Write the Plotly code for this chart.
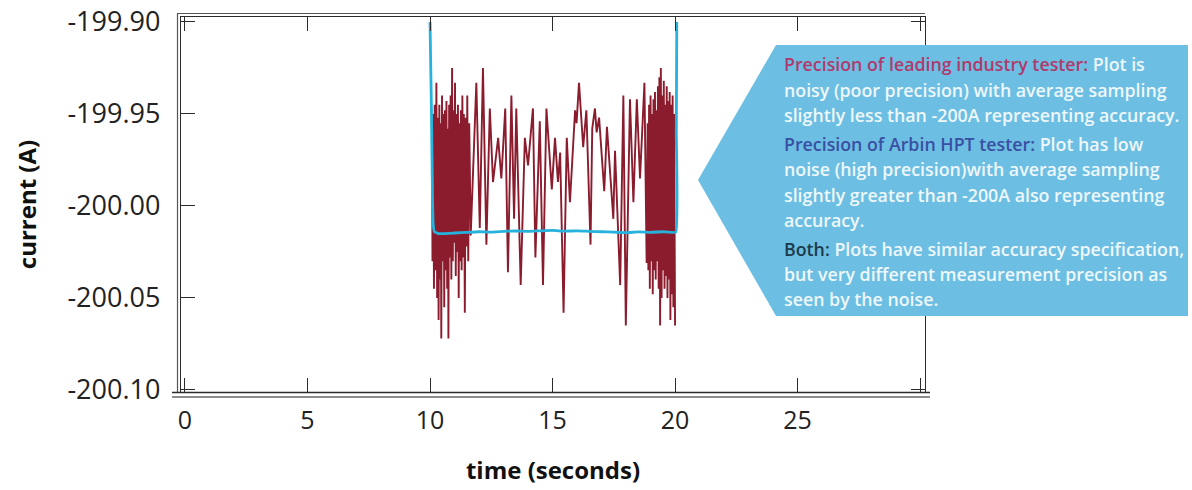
import plotly.graph_objects as go

# ---------------- data ----------------
red_t = [10.08, 10.10, 10.13, 10.16, 10.19, 10.22, 10.26, 10.29, 10.32, 10.35,
         10.38, 10.41, 10.43, 10.46, 10.49, 10.52, 10.55, 10.58, 10.61, 10.64,
         10.67, 10.70, 10.73, 10.75, 10.78, 10.81, 10.84, 10.87, 10.90, 10.93,
         10.96, 10.99, 11.02, 11.05, 11.08, 11.11, 11.14, 11.17, 11.20, 11.23,
         11.26, 11.29, 11.32, 11.35, 11.38, 11.42, 11.46, 11.49, 11.52, 11.56,
         11.60, 11.66,
         11.89, 12.03, 12.16, 12.30, 12.44, 12.57, 12.78, 12.91, 13.07, 13.18,
         13.32, 13.43, 13.52, 13.70, 13.87, 14.00, 14.20, 14.30, 14.48, 14.61,
         14.75, 14.97, 15.10, 15.22, 15.31, 15.45, 15.58, 15.71, 15.92, 15.98,
         16.08, 16.25, 16.38, 16.55, 16.62, 16.73, 16.80, 16.90, 17.11, 17.22,
         17.48, 17.55, 17.76, 17.89, 17.99, 18.16, 18.30, 18.44, 18.57, 18.75,
         18.84,
         18.88, 18.91, 18.94, 18.97, 19.00, 19.03, 19.06, 19.09, 19.12, 19.15,
         19.18, 19.21, 19.24, 19.27, 19.30, 19.33, 19.36, 19.39, 19.42, 19.45,
         19.48, 19.51, 19.54, 19.57, 19.60, 19.63, 19.66, 19.69, 19.72, 19.75,
         19.78, 19.81, 19.84, 19.87, 19.90, 19.93, 19.96, 20.00]
red_i = [-199.963, -200.030, -199.950, -200.045, -199.945, -200.035, -199.933, -200.050, -199.952, -200.062,
         -199.945, -200.040, -199.955, -200.072, -199.940, -200.030, -199.950, -200.055, -199.948, -200.035,
         -199.943, -200.045, -199.958, -200.072, -199.945, -200.028, -199.940, -200.040, -199.925, -200.030,
         -199.948, -200.020, -199.933, -200.038, -199.950, -200.025, -199.945, -200.050, -199.955, -200.030,
         -199.948, -200.035, -199.940, -200.028, -199.950, -200.058, -199.952, -200.022, -199.940, -200.030,
         -199.955, -200.016,
         -199.933, -200.012, -199.925, -200.021, -199.947, -199.987, -199.963, -199.985, -199.947, -200.036,
         -199.940, -200.007, -199.947, -200.043, -199.963, -199.978, -199.947, -200.028, -199.954, -200.043,
         -199.947, -199.991, -199.963, -199.987, -199.971, -200.058, -199.963, -199.998, -199.948, -199.955,
         -199.933, -199.968, -199.948, -200.021, -199.958, -199.947, -199.960, -199.952, -199.992, -199.957,
         -200.007, -199.970, -200.043, -199.940, -200.065, -199.942, -199.998, -199.942, -199.985, -199.933,
         -200.031,
         -199.955, -200.035, -199.945, -200.045, -199.940, -200.030, -199.950, -200.048, -199.942, -200.035,
         -199.938, -200.040, -199.948, -200.030, -199.935, -200.045, -199.930, -200.065, -199.925, -200.050,
         -199.940, -200.035, -199.932, -200.045, -199.945, -200.038, -199.935, -200.050, -199.943, -200.040,
         -199.938, -200.062, -199.945, -200.048, -199.940, -200.055, -199.950, -200.065]

cyan_t = [10.00, 10.06, 10.10, 10.13, 10.18, 10.35, 11.0, 11.5, 12.0, 12.5, 13.0, 13.5, 14.0,
          14.5, 15.0, 15.5, 16.0, 16.5, 17.0, 17.5, 18.0, 18.5, 19.0, 19.5, 20.03, 20.05, 20.07]
cyan_i = [-199.900, -199.950, -199.995, -200.010, -200.0140, -200.0150, -200.0147, -200.0143,
          -200.0140, -200.0142, -200.0138, -200.0136, -200.0138, -200.0135, -200.0133, -200.0137,
          -200.0135, -200.0138, -200.0140, -200.0142, -200.0145, -200.0141, -200.0143, -200.0140,
          -200.0142, -199.960, -199.900]

x_tick_vals = [0, 5, 10, 15, 20, 25, 30]
x_tick_text = ["0", "5", "10", "15", "20", "25", ""]
y_tick_vals = [-199.90, -199.95, -200.00, -200.05, -200.10]
y_tick_text = ["-199.90", "-199.95", "-200.00", "-200.05", "-200.10"]

callout_lines = [
    ("Precision of leading industry tester:", " Plot is", "#b03a6c"),
    ("", "noisy (poor precision) with average sampling", None),
    ("", "slightly less than -200A representing accuracy.", None),
    ("Precision of Arbin HPT tester:", " Plot has low", "#3a4fa3"),
    ("", "noise (high precision)with average sampling", None),
    ("", "slightly greater than -200A also representing", None),
    ("", "accuracy.", None),
    ("Both:", " Plots have similar accuracy specification,", "#1d3a4c"),
    ("", "but very different measurement precision as", None),
    ("", "seen by the noise.", None),
]

# ---------------- layout geometry ----------------
W, H = 1192, 490
ML, MR, MT, MB = 181, 267, 17, 98
PW = W - ML - MR
PH = H - MT - MB


def fx(p):
    return (p - ML) / PW


def fy(p):
    return (H - MB - p) / PH


FONT = "Open Sans"
AX = "#2b2b2b"

fig = go.Figure()
fig.add_trace(go.Scatter(x=red_t, y=red_i, mode="lines",
                         line=dict(color="#8a1c2e", width=1.9), showlegend=False,
                         name="leading industry tester"))
fig.add_trace(go.Scatter(x=cyan_t, y=cyan_i, mode="lines",
                         line=dict(color="#26b2dc", width=2.8, shape="spline", smoothing=0.3),
                         showlegend=False, name="Arbin HPT tester"))

shapes = []
# callout pentagon
pts = [(776, 45), (1188, 45), (1188, 316), (776, 316), (698, 180)]
path = "M " + " L ".join(f"{fx(a):.5f},{fy(b):.5f}" for a, b in pts) + " Z"
shapes.append(dict(type="path", xref="paper", yref="paper", path=path,
                   fillcolor="#6cbfe2", line=dict(width=0), layer="above"))
# outer frame line (double border look): left + top
shapes.append(dict(type="path", xref="paper", yref="paper",
                   path=f"M {fx(177.5):.5f},{fy(392):.5f} L {fx(177.5):.5f},{fy(13.5):.5f} L {fx(925):.5f},{fy(13.5):.5f}",
                   line=dict(color="#555", width=1.2)))
# bottom double line
shapes.append(dict(type="line", xref="paper", yref="paper",
                   x0=fx(172), x1=fx(930), y0=fy(392.5), y1=fy(392.5),
                   line=dict(color=AX, width=1.4)))
shapes.append(dict(type="line", xref="paper", yref="paper",
                   x0=fx(172), x1=fx(930), y0=fy(397), y1=fy(397),
                   line=dict(color="#666", width=1.6)))

annotations = []
ys = [64, 89.5, 115, 144, 169.5, 194.5, 220, 249, 274, 299]
for (lab, txt, col), yy in zip(callout_lines, ys):
    if lab:
        t = f"<span style='color:{col}'>{lab}</span>{txt}"
    else:
        t = txt
    annotations.append(dict(xref="paper", yref="paper", x=fx(782), y=fy(yy),
                            xanchor="left", yanchor="middle", showarrow=False,
                            text=t, font=dict(family=FONT, size=17.8, weight=600, color="#eef7fb"),
                            align="left"))

fig.update_layout(
    width=W, height=H,
    margin=dict(l=ML, r=MR, t=MT, b=MB, autoexpand=False),
    paper_bgcolor="white", plot_bgcolor="white",
    font=dict(family=FONT, color="#222"),
    shapes=shapes, annotations=annotations,
    xaxis=dict(range=[-0.163, 30.2], tickvals=x_tick_vals, ticktext=x_tick_text,
               ticks="inside", ticklen=14, tickwidth=1.4, tickcolor=AX,
               showline=True, linecolor=AX, linewidth=1.4, mirror="ticks",
               showgrid=False, zeroline=False,
               tickfont=dict(family=FONT, size=25, color="#222"),
               ticklabelstandoff=6,
               title=dict(text="<b>time (seconds)</b>", standoff=26,
                          font=dict(family=FONT, size=24, color="#111"))),
    yaxis=dict(range=[-200.1011, -199.8973], tickvals=y_tick_vals, ticktext=y_tick_text,
               ticks="inside", ticklen=14, tickwidth=1.4, tickcolor=AX,
               showline=True, linecolor=AX, linewidth=1.4, mirror="ticks",
               showgrid=False, zeroline=False,
               tickfont=dict(family=FONT, size=27, color="#222"),
               ticklabelstandoff=14,
               title=dict(text="<b>current (A)</b>", standoff=24,
                          font=dict(family=FONT, size=24, color="#111"))),
)

fig.write_html("out.html")
